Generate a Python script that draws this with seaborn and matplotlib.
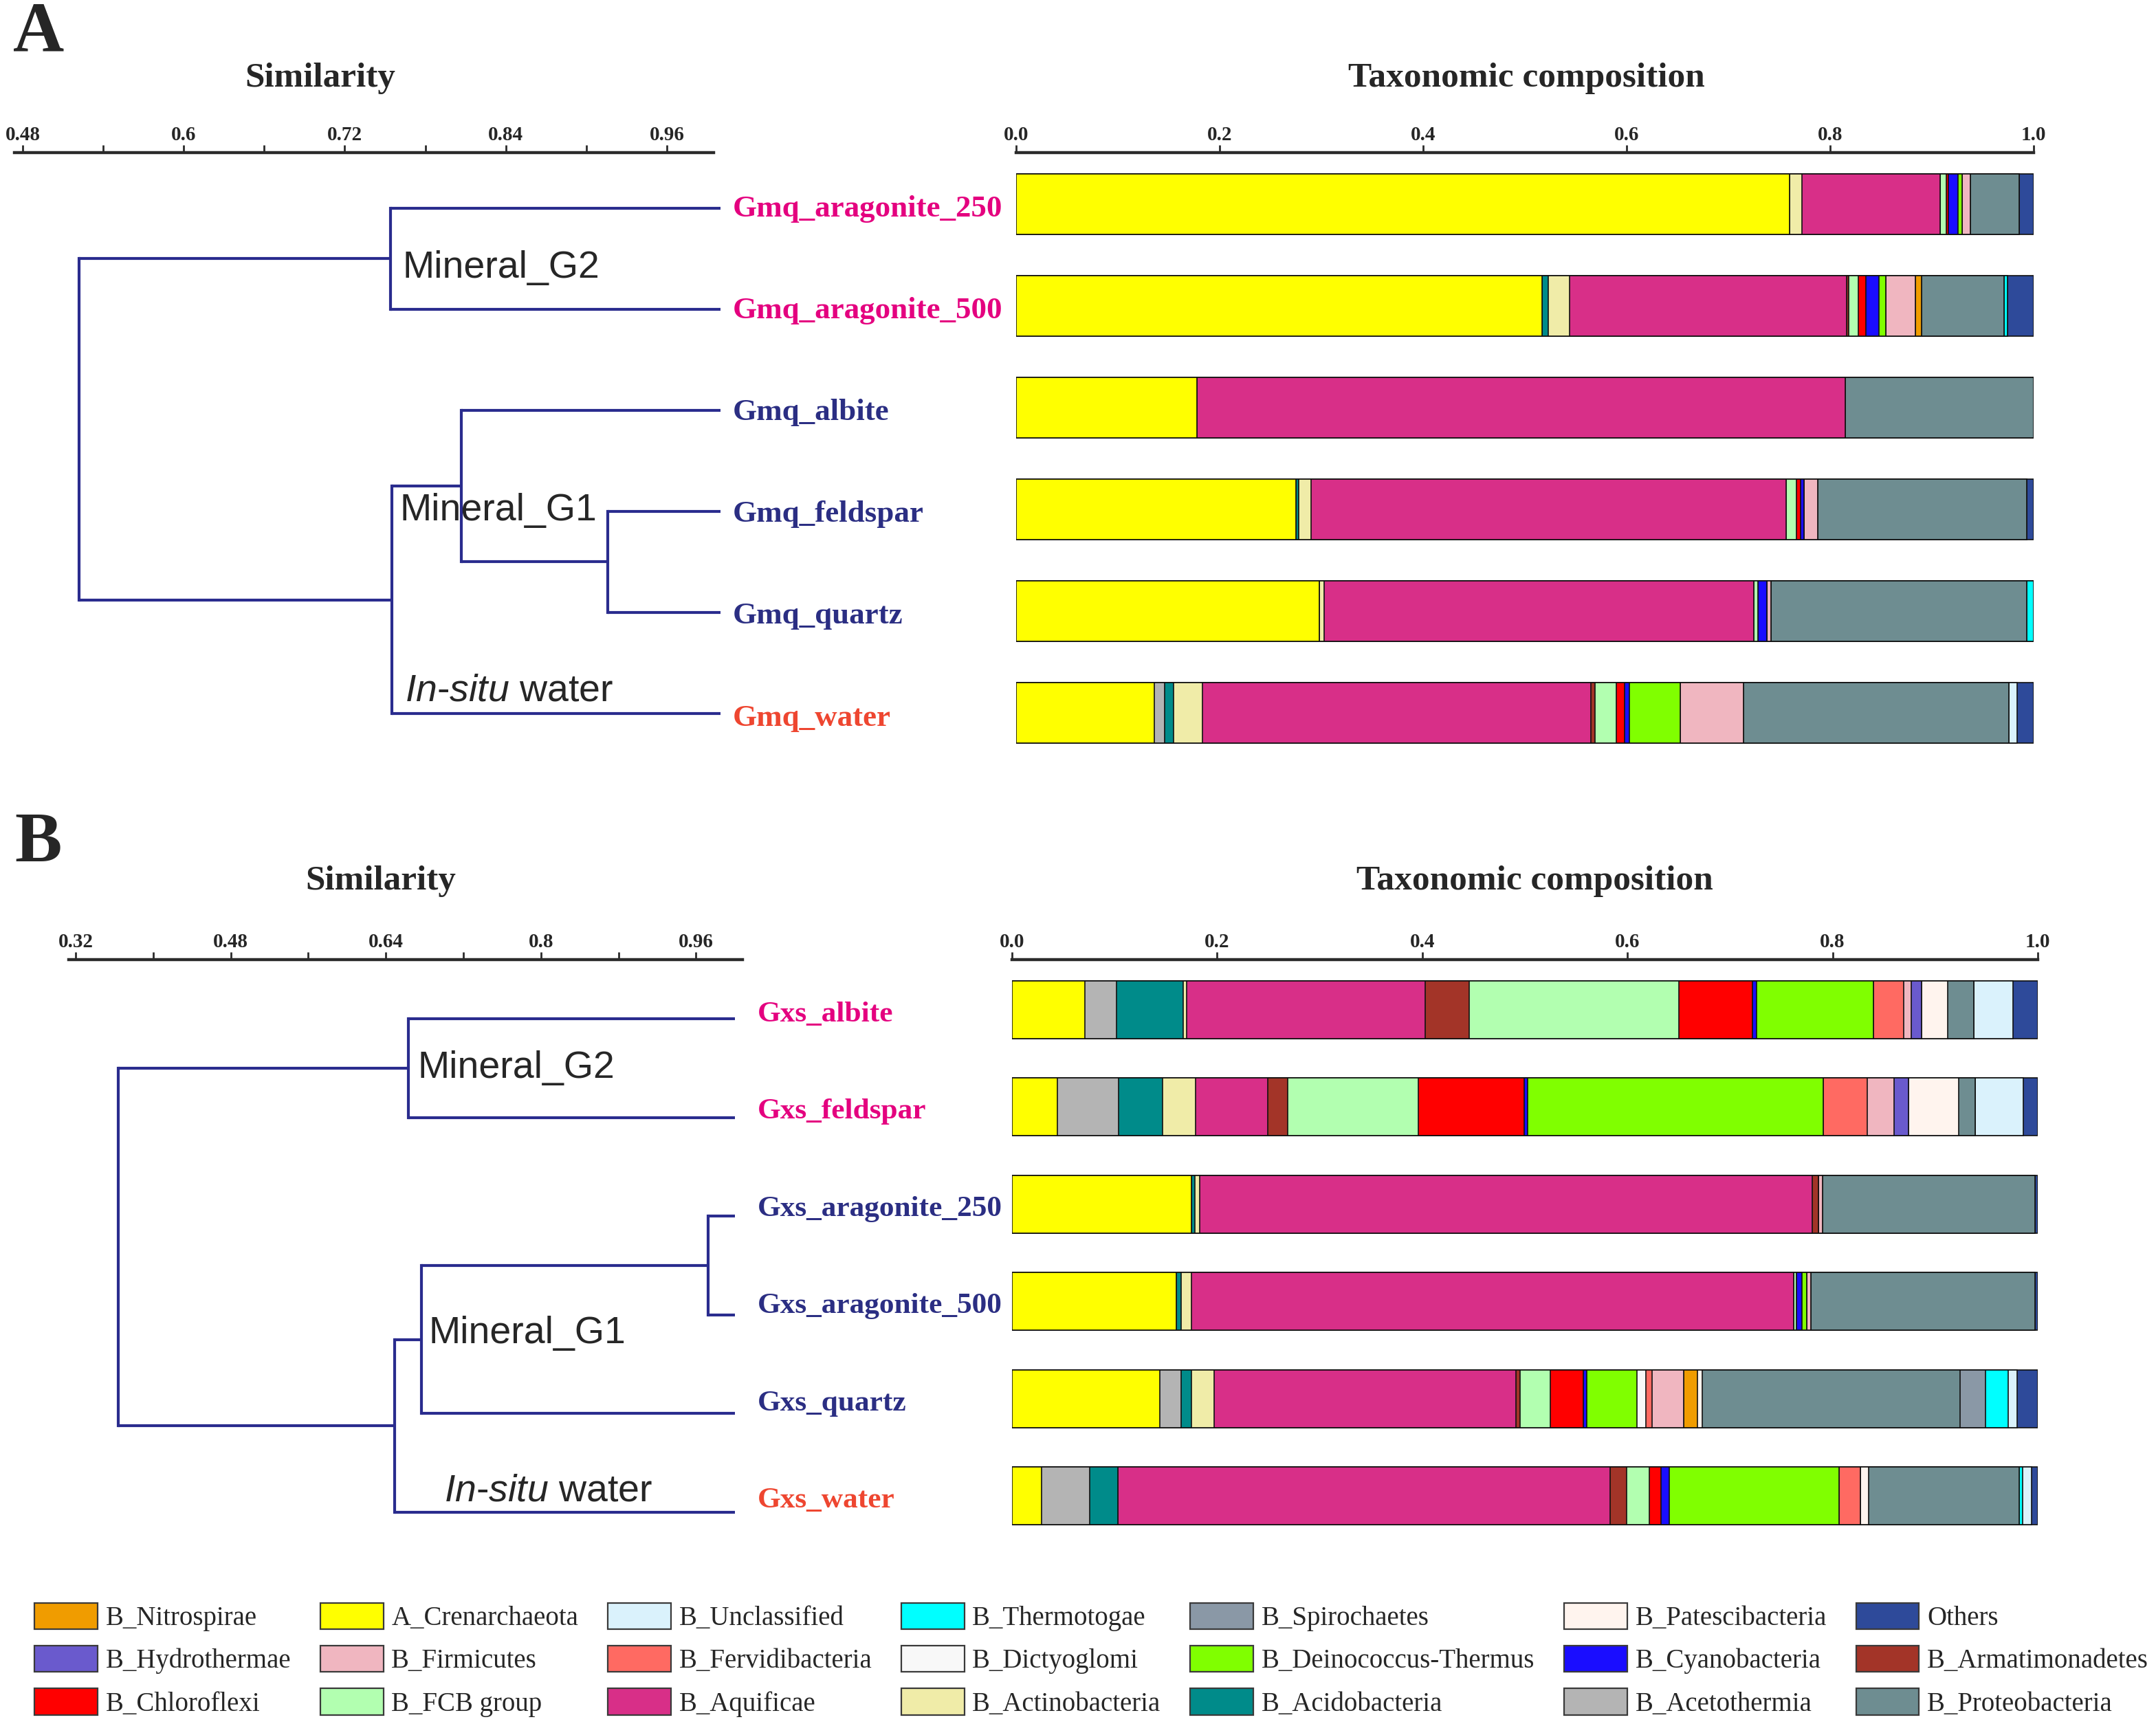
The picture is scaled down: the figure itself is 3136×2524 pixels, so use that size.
import numpy as np
import pandas as pd
import matplotlib
matplotlib.use("Agg")
import matplotlib.pyplot as plt
import matplotlib.transforms as mtransforms
from matplotlib.patches import Patch
import seaborn as sns

# stacking order of the taxa (left to right in every bar)
taxa = ["A_Crenarchaeota", "B_Acetothermia", "B_Acidobacteria", "B_Actinobacteria",
        "B_Aquificae", "B_Armatimonadetes", "B_FCB group", "B_Chloroflexi",
        "B_Cyanobacteria", "B_Deinococcus-Thermus", "B_Dictyoglomi", "B_Fervidibacteria",
        "B_Firmicutes", "B_Hydrothermae", "B_Nitrospirae", "B_Patescibacteria",
        "B_Proteobacteria", "B_Spirochaetes", "B_Thermotogae", "B_Unclassified", "Others"]

taxa_colors = {
    "A_Crenarchaeota": "#FFFF00", "B_Acetothermia": "#B4B4B4", "B_Acidobacteria": "#008B8A",
    "B_Actinobacteria": "#F0ECA8", "B_Aquificae": "#D82F88", "B_Armatimonadetes": "#A33428",
    "B_FCB group": "#B2FFB0", "B_Chloroflexi": "#FF0000", "B_Cyanobacteria": "#1A0DFF",
    "B_Deinococcus-Thermus": "#80FF00", "B_Dictyoglomi": "#F8F8F8", "B_Fervidibacteria": "#FF6A62",
    "B_Firmicutes": "#F0B6C0", "B_Hydrothermae": "#6A5ACD", "B_Nitrospirae": "#F09C00",
    "B_Patescibacteria": "#FFF4EE", "B_Proteobacteria": "#6E8D91", "B_Spirochaetes": "#8A98A6",
    "B_Thermotogae": "#00FFFF", "B_Unclassified": "#DAF2FC", "Others": "#2E4A9A",
}

legend_order = ["B_Nitrospirae", "B_Hydrothermae", "B_Chloroflexi",
                "A_Crenarchaeota", "B_Firmicutes", "B_FCB group",
                "B_Unclassified", "B_Fervidibacteria", "B_Aquificae",
                "B_Thermotogae", "B_Dictyoglomi", "B_Actinobacteria",
                "B_Spirochaetes", "B_Deinococcus-Thermus", "B_Acidobacteria",
                "B_Patescibacteria", "B_Cyanobacteria", "B_Acetothermia",
                "Others", "B_Armatimonadetes", "B_Proteobacteria"]

# panel A samples (order top to bottom)
gmq_samples = ["Gmq_aragonite_250", "Gmq_aragonite_500", "Gmq_albite",
               "Gmq_feldspar", "Gmq_quartz", "Gmq_water"]
gmq_label_colors = ["#E4007F", "#E4007F", "#2B2E83", "#2B2E83", "#2B2E83", "#EE4630"]
gmq_aragonite_250 = [0.760, 0, 0, 0.012, 0.136, 0, 0.006, 0.002, 0.010, 0.004, 0,
                     0, 0.008, 0, 0, 0, 0.048, 0, 0, 0, 0.014]
gmq_aragonite_500 = [0.517, 0, 0.006, 0.021, 0.272, 0.002, 0.010, 0.007, 0.013, 0.007, 0,
                     0, 0.029, 0, 0.006, 0, 0.081, 0, 0.003, 0, 0.026]
gmq_albite = [0.178, 0, 0, 0, 0.637, 0, 0, 0, 0, 0, 0,
              0, 0, 0, 0, 0, 0.185, 0, 0, 0, 0]
gmq_feldspar = [0.275, 0, 0.003, 0.012, 0.467, 0, 0.010, 0.004, 0.003, 0, 0,
                0, 0.014, 0, 0, 0, 0.205, 0, 0, 0, 0.007]
gmq_quartz = [0.298, 0, 0, 0.005, 0.422, 0, 0.004, 0, 0.009, 0, 0,
              0, 0.004, 0, 0, 0, 0.251, 0, 0.007, 0, 0]
gmq_water = [0.136, 0.010, 0.009, 0.028, 0.382, 0.004, 0.021, 0.008, 0.005, 0.050, 0,
             0, 0.062, 0, 0, 0, 0.261, 0, 0, 0.008, 0.016]

# panel B samples
gxs_samples = ["Gxs_albite", "Gxs_feldspar", "Gxs_aragonite_250",
               "Gxs_aragonite_500", "Gxs_quartz", "Gxs_water"]
gxs_label_colors = ["#E4007F", "#E4007F", "#2B2E83", "#2B2E83", "#2B2E83", "#EE4630"]
gxs_albite = [0.071, 0.031, 0.065, 0.003, 0.233, 0.043, 0.204, 0.072, 0.004, 0.114, 0,
              0.029, 0.008, 0.010, 0, 0.025, 0.026, 0, 0, 0.038, 0.024]
gxs_feldspar = [0.044, 0.060, 0.043, 0.032, 0.070, 0.020, 0.127, 0.103, 0.004, 0.288, 0,
                0.043, 0.026, 0.014, 0, 0.049, 0.016, 0, 0, 0.047, 0.014]
gxs_aragonite_250 = [0.175, 0, 0.003, 0.005, 0.597, 0.006, 0, 0, 0, 0, 0,
                     0, 0.004, 0, 0, 0, 0.207, 0, 0, 0, 0.003]
gxs_aragonite_500 = [0.160, 0, 0.005, 0.010, 0.587, 0, 0.003, 0, 0.005, 0.005, 0,
                     0, 0.004, 0, 0, 0, 0.218, 0, 0, 0, 0.003]
gxs_quartz = [0.144, 0.021, 0.010, 0.022, 0.294, 0.004, 0.030, 0.032, 0.003, 0.049, 0.009,
              0.006, 0.031, 0, 0.013, 0.005, 0.251, 0.025, 0.022, 0.009, 0.020]
gxs_water = [0.029, 0.047, 0.027, 0, 0.480, 0.016, 0.022, 0.012, 0.008, 0.165, 0,
             0.021, 0, 0, 0, 0.008, 0.147, 0, 0.003, 0.009, 0.006]

# dendrogram merges: (child a, child b, similarity); new nodes numbered from 6
gmq_links = [(3, 4, 0.916), (2, 6, 0.807), (7, 5, 0.755), (0, 1, 0.754), (9, 8, 0.522)]
gxs_links = [(2, 3, 0.9725), (6, 4, 0.677), (7, 5, 0.649), (0, 1, 0.663), (9, 8, 0.364)]

gmq_sim_ticks = [0.48, 0.6, 0.72, 0.84, 0.96]
gmq_sim_labels = ["0.48", "0.6", "0.72", "0.84", "0.96"]
gmq_sim_minor = [0.54, 0.66, 0.78, 0.90]
gxs_sim_ticks = [0.32, 0.48, 0.64, 0.8, 0.96]
gxs_sim_labels = ["0.32", "0.48", "0.64", "0.8", "0.96"]
gxs_sim_minor = [0.40, 0.56, 0.72, 0.88]
comp_ticks = [0.0, 0.2, 0.4, 0.6, 0.8, 1.0]
comp_labels = ["0.0", "0.2", "0.4", "0.6", "0.8", "1.0"]

sns.set_style("white")
plt.rcParams["font.family"] = ["Liberation Serif", "DejaVu Serif"]
plt.rcParams["mathtext.fontset"] = "custom"
plt.rcParams["mathtext.rm"] = "Liberation Sans"
plt.rcParams["mathtext.it"] = "Liberation Sans:italic"

TREE = "#2A2C8E"
SANS = "Liberation Sans"

fig = plt.figure(figsize=(15.68, 12.62), dpi=200)


def style_top_axis(ax, ticks, labels, minor=None):
    for s in ["left", "right", "bottom"]:
        ax.spines[s].set_visible(False)
    ax.spines["top"].set_color("#2b2b2b")
    ax.spines["top"].set_linewidth(1.6)
    ax.xaxis.tick_top()
    ax.set_xticks(ticks)
    ax.set_xticklabels(labels, fontsize=10.5, fontweight="bold")
    if minor is not None:
        ax.set_xticks(minor, minor=True)
    ax.tick_params(axis="x", which="both", direction="out", length=4, width=1.0,
                   color="#2b2b2b", pad=0.3, top=True, bottom=False)
    ax.set_yticks([])
    ax.set_xlabel("")
    ax.set_ylabel("")


def draw_tree(ax, links, n_leaves):
    ypos = {i: float(i) for i in range(n_leaves)}
    hpos = {i: 1.0 for i in range(n_leaves)}
    for k, (a, b, h) in enumerate(links):
        for c in (a, b):
            ax.plot([hpos[c], h], [ypos[c], ypos[c]], color=TREE, lw=1.5,
                    clip_on=False, solid_capstyle="butt")
        ax.plot([h, h], [ypos[a], ypos[b]], color=TREE, lw=1.5,
                clip_on=False, solid_capstyle="projecting")
        node = n_leaves + k
        ypos[node] = (ypos[a] + ypos[b]) / 2
        hpos[node] = h


def draw_bars(ax, samples, rows, height):
    df = pd.DataFrame(rows, index=samples, columns=taxa)
    cum = df.cumsum(axis=1)
    # draw the cumulative bars from the longest to the shortest
    for t in taxa[::-1]:
        sns.barplot(x=cum[t].values, y=samples, order=samples, orient="h",
                    color=taxa_colors[t], saturation=1, width=height,
                    edgecolor="#111111", linewidth=0.6, errorbar=None, ax=ax)


def panel(tree_rect, bar_rect, samples, rows, label_colors, links,
          tree_xlim, tree_ylim, bar_ylim, bar_height, label_x, label_size,
          sim_ticks, sim_labels, sim_minor, group_text):
    axt = fig.add_axes(tree_rect)
    draw_tree(axt, links, len(samples))
    axt.set_xlim(*tree_xlim)
    axt.set_ylim(*tree_ylim)
    style_top_axis(axt, sim_ticks, sim_labels, sim_minor)
    for (tx, ty, txt) in group_text:
        axt.text(tx, ty, txt, fontsize=20, family=SANS, va="center", ha="left",
                 clip_on=False)

    axb = fig.add_axes(bar_rect)
    draw_bars(axb, samples, rows, bar_height)
    axb.set_xlim(0, 1)
    axb.set_ylim(*bar_ylim)
    style_top_axis(axb, comp_ticks, comp_labels)

    # sample names: x in similarity units, y on the bar rows
    trans = mtransforms.blended_transform_factory(axt.transData, axb.transData)
    for i, (s, c) in enumerate(zip(samples, label_colors)):
        axt.text(label_x, i + 0.05, s, color=c, fontsize=label_size, fontweight="bold",
                 va="center", ha="left", clip_on=False, transform=trans)
    return axt, axb


W, H = 1568.0, 1262.0


def rect(x0, x1, ytop, ybot):
    return [x0 / W, 1 - ybot / H, (x1 - x0) / W, (ybot - ytop) / H]


# panel A
panel(rect(10.5, 519, 111, 560), rect(739, 1479, 111, 560),
      gmq_samples,
      [gmq_aragonite_250, gmq_aragonite_500, gmq_albite, gmq_feldspar, gmq_quartz, gmq_water],
      gmq_label_colors, gmq_links,
      (0.4739, 0.9949), (5.558, -0.551), (5.56, -0.507), 0.595, 1.009, 16.2,
      gmq_sim_ticks, gmq_sim_labels, gmq_sim_minor,
      [(0.763, 0.59, "Mineral_G2"), (0.761, 2.99, "Mineral_G1"),
       (0.765, 4.78, r"$\mathit{In}$-$\mathit{situ}$ water")])

# panel B
panel(rect(50, 540, 698, 1140), rect(736, 1482, 698, 1140),
      gxs_samples,
      [gxs_albite, gxs_feldspar, gxs_aragonite_250, gxs_aragonite_500, gxs_quartz, gxs_water],
      gxs_label_colors, gxs_links,
      (0.3129, 1.008), (5.557, -0.599), (5.735, -0.516), 0.594, 1.0235, 15.6,
      gxs_sim_ticks, gxs_sim_labels, gxs_sim_minor,
      [(0.673, 0.50, "Mineral_G2"), (0.6845, 3.19, "Mineral_G1"),
       (0.700, 4.79, r"$\mathit{In}$-$\mathit{situ}$ water")])

# titles and panel letters
fig.text(233 / W, 1 - 57 / H, "Similarity", fontsize=18.4, fontweight="bold", ha="center", va="center")
fig.text(1110 / W, 1 - 57 / H, "Taxonomic composition", fontsize=18.5, fontweight="bold",
         ha="center", va="center")
fig.text(277 / W, 1 - 641 / H, "Similarity", fontsize=18.4, fontweight="bold", ha="center", va="center")
fig.text(1116 / W, 1 - 641 / H, "Taxonomic composition", fontsize=18.5, fontweight="bold",
         ha="center", va="center")
fig.text(28 / W, 1 - 25 / H, "A", fontsize=37, fontweight="bold", ha="center", va="center")
fig.text(28 / W, 1 - 614 / H, "B", fontsize=37, fontweight="bold", ha="center", va="center")

handles = [Patch(facecolor=taxa_colors[t], edgecolor="#3a3a3a", linewidth=0.8, label=t)
           for t in legend_order]
fig.legend(handles=handles, ncol=7, loc="upper left", bbox_to_anchor=(25 / W, 1 - 1166 / H),
           frameon=False, fontsize=14, handlelength=2.36, handleheight=1.13,
           handletextpad=0.3, columnspacing=1.1, labelspacing=0.54, borderpad=0,
           borderaxespad=0)

fig.savefig("out.png", dpi=200)
